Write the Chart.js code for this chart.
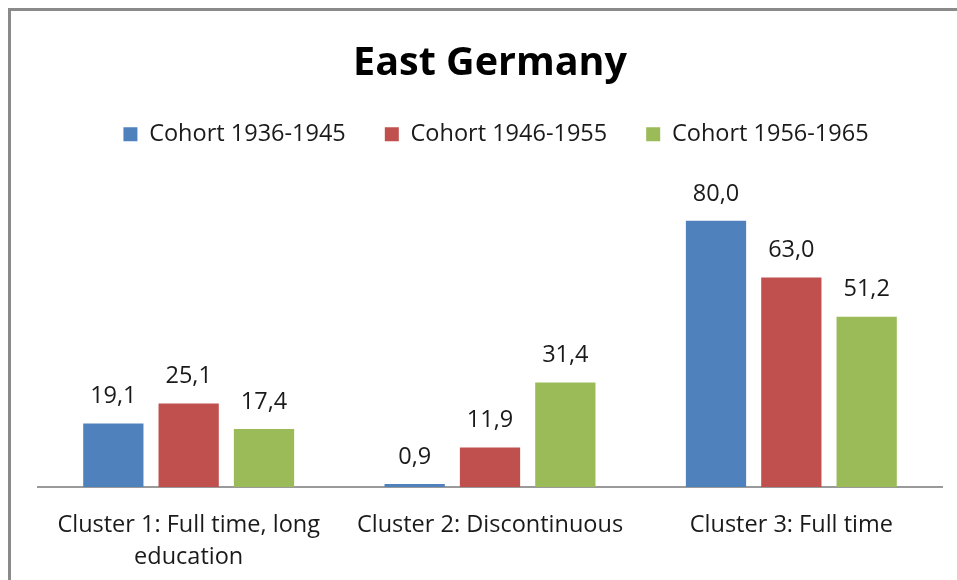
<!DOCTYPE html>
<html>
<head>
<meta charset="utf-8">
<script src="https://cdn.jsdelivr.net/npm/chart.js@4"></script>
<style>
  html, body { margin: 0; padding: 0; background: #fff; }
  #c { display: block; }
</style>
</head>
<body>
<canvas id="c" width="957" height="580"></canvas>
<script>
const categories = [["Cluster 1: Full time, long", "education"], "Cluster 2: Discontinuous", "Cluster 3: Full time"];
const seriesNames = ["Cohort 1936-1945", "Cohort 1946-1955", "Cohort 1956-1965"];
const cohort1936 = [19.1, 0.9, 80.0];
const cohort1946 = [25.1, 11.9, 63.0];
const cohort1956 = [17.4, 31.4, 51.2];
const colors = ["#4F81BD", "#C0504D", "#9BBB59"];

const FONT = "'Open Sans', 'DejaVu Sans', sans-serif";

const framePlugin = {
  id: 'frame',
  afterLayout(chart) {
    if (chart.legend) {
      chart.legend.left += 6;
      chart.legend.right += 6;
    }
  },
  beforeDraw(chart) {
    const ctx = chart.ctx;
    ctx.save();
    ctx.fillStyle = '#ffffff';
    ctx.fillRect(0, 0, chart.width, chart.height);
    ctx.strokeStyle = '#8a8a8a';
    ctx.lineWidth = 3;
    ctx.beginPath();
    ctx.moveTo(9.5, chart.height);
    ctx.lineTo(9.5, 9.5);
    ctx.lineTo(chart.width, 9.5);
    ctx.stroke();
    ctx.restore();
  }
};

const labelPlugin = {
  id: 'valueLabels',
  afterDatasetsDraw(chart) {
    const ctx = chart.ctx;
    ctx.save();
    ctx.font = "23.5px " + FONT;
    ctx.fillStyle = '#1a1a1a';
    ctx.textAlign = 'center';
    ctx.textBaseline = 'middle';
    chart.data.datasets.forEach((ds, di) => {
      const meta = chart.getDatasetMeta(di);
      meta.data.forEach((bar, i) => {
        const v = ds.data[i];
        ctx.fillText(v.toFixed(1).replace('.', ','), bar.x, bar.y - 27);
      });
    });
    ctx.restore();
  }
};

new Chart(document.getElementById('c'), {
  type: 'bar',
  data: {
    labels: categories,
    datasets: [
      { label: seriesNames[0], data: cohort1936, backgroundColor: colors[0] },
      { label: seriesNames[1], data: cohort1946, backgroundColor: colors[1] },
      { label: seriesNames[2], data: cohort1956, backgroundColor: colors[2] }
    ]
  },
  options: {
    responsive: false,
    animation: false,
    devicePixelRatio: 1,
    categoryPercentage: 0.75,
    barPercentage: 0.8,
    layout: { padding: { left: 38, right: 15, top: 3, bottom: 7 } },
    plugins: {
      title: {
        display: true,
        text: 'East Germany',
        color: '#000',
        font: { family: FONT, size: 39.5, weight: 'bold', lineHeight: 1.0 },
        padding: { top: 41, bottom: 0 }
      },
      legend: {
        display: true,
        labels: {
          boxWidth: 14,
          boxHeight: 14,
          padding: 39,
          color: '#1a1a1a',
          font: { family: FONT, size: 23.5 }
        }
      },
      tooltip: { enabled: false }
    },
    scales: {
      x: {
        grid: { display: false, drawTicks: false },
        border: { display: true, color: '#9a9a9a', width: 2 },
        afterFit(scale) { scale.height = 86; },
        ticks: {
          color: '#1a1a1a',
          padding: 22,
          maxRotation: 0,
          autoSkip: false,
          font: { family: FONT, size: 23.5, lineHeight: 1.36 }
        }
      },
      y: {
        display: false,
        min: 0,
        max: 99.5
      }
    }
  },
  plugins: [framePlugin, labelPlugin]
});
</script>
</body>
</html>
